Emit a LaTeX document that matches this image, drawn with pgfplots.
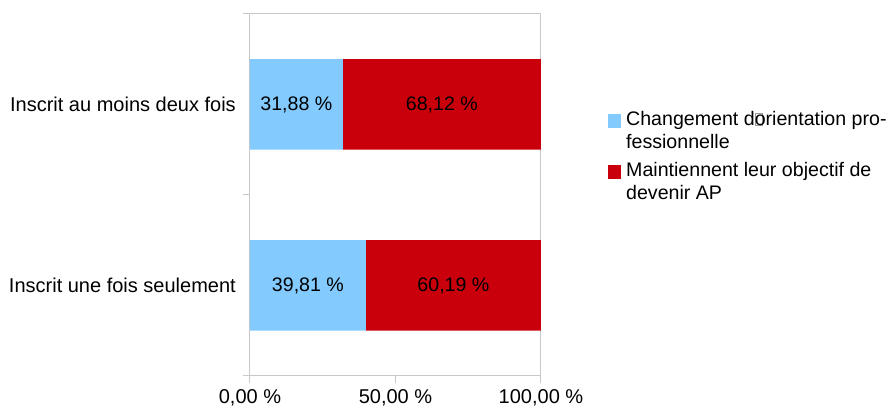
\documentclass[border=0pt]{standalone}
\usepackage{pgfplots}
\pgfplotsset{compat=1.18}
\usepackage{fontspec}
\setmainfont{Liberation Sans}
\definecolor{lblue}{RGB}{131,202,255}
\definecolor{dred}{RGB}{201,0,11}
\definecolor{axgray}{RGB}{200,200,200}
\newcommand{\gbox}{\rlap{\color{gray!80}\setlength{\fboxsep}{0pt}\setlength{\fboxrule}{0.5pt}\fbox{\rule{0pt}{12pt}\hspace{7pt}}}}
\begin{document}
\fontsize{19.6}{23}\selectfont
\begin{tikzpicture}[font=\fontsize{19.6}{23}\selectfont]
\begin{axis}[
  at={(0,0)}, anchor=south west,
  scale only axis, width=291pt, height=362pt,
  xbar stacked, bar width=0.5,
  xmin=0, xmax=100, ymin=-0.5, ymax=1.5,
  enlargelimits=false,
  axis line style={axgray, line width=1pt},
  tick style={axgray, line width=1pt},
  tick align=outside, xtick pos=bottom, ytick pos=left,
  major tick length=7pt,
  ticklabel style={font=\fontsize{20}{23}\selectfont},
  /pgf/number format/assume math mode=true,
  xtick={0,50,100},
  xticklabels={{0,00 \%},{50,00 \%},{100,00 \%}},
  ytick={-0.5,0.5,1.5}, yticklabels={},
  extra y ticks={0,1},
  extra y tick labels={Inscrit une fois seulement, Inscrit au moins deux fois},
  extra y tick style={major tick length=0pt, yticklabel style={xshift=-7.5pt}},
  legend style={draw=none, fill=none, at={(axis description cs:1,1)}, anchor=north west,
    xshift=64pt, yshift=-93pt, nodes={align=left, inner sep=2pt}, row sep=7pt, column sep=3pt},
  legend cell align=left,
  legend image code/.code={\fill[#1] (0pt,3pt) rectangle (13pt,17pt);},
]
\addplot[fill=lblue, draw=none] coordinates {(39.81,0) (31.88,1)};
\addlegendentry{Changement d\gbox orientation pro-\\fessionnelle}
\addplot[fill=dred, draw=none] coordinates {(60.19,0) (68.12,1)};
\addlegendentry{Maintiennent leur objectif de\\devenir AP}
\coordinate (a1) at (axis cs:15.94,1);
\coordinate (a2) at (axis cs:65.94,1);
\coordinate (b1) at (axis cs:19.905,0);
\coordinate (b2) at (axis cs:69.905,0);
\end{axis}
\node at (a1) {31,88 \%};
\node at (a2) {68,12 \%};
\node at (b1) {39,81 \%};
\node at (b2) {60,19 \%};
\pgfresetboundingbox
\path[use as bounding box] (-250pt,-36pt) rectangle (639pt,376pt);
\end{tikzpicture}
\end{document}
